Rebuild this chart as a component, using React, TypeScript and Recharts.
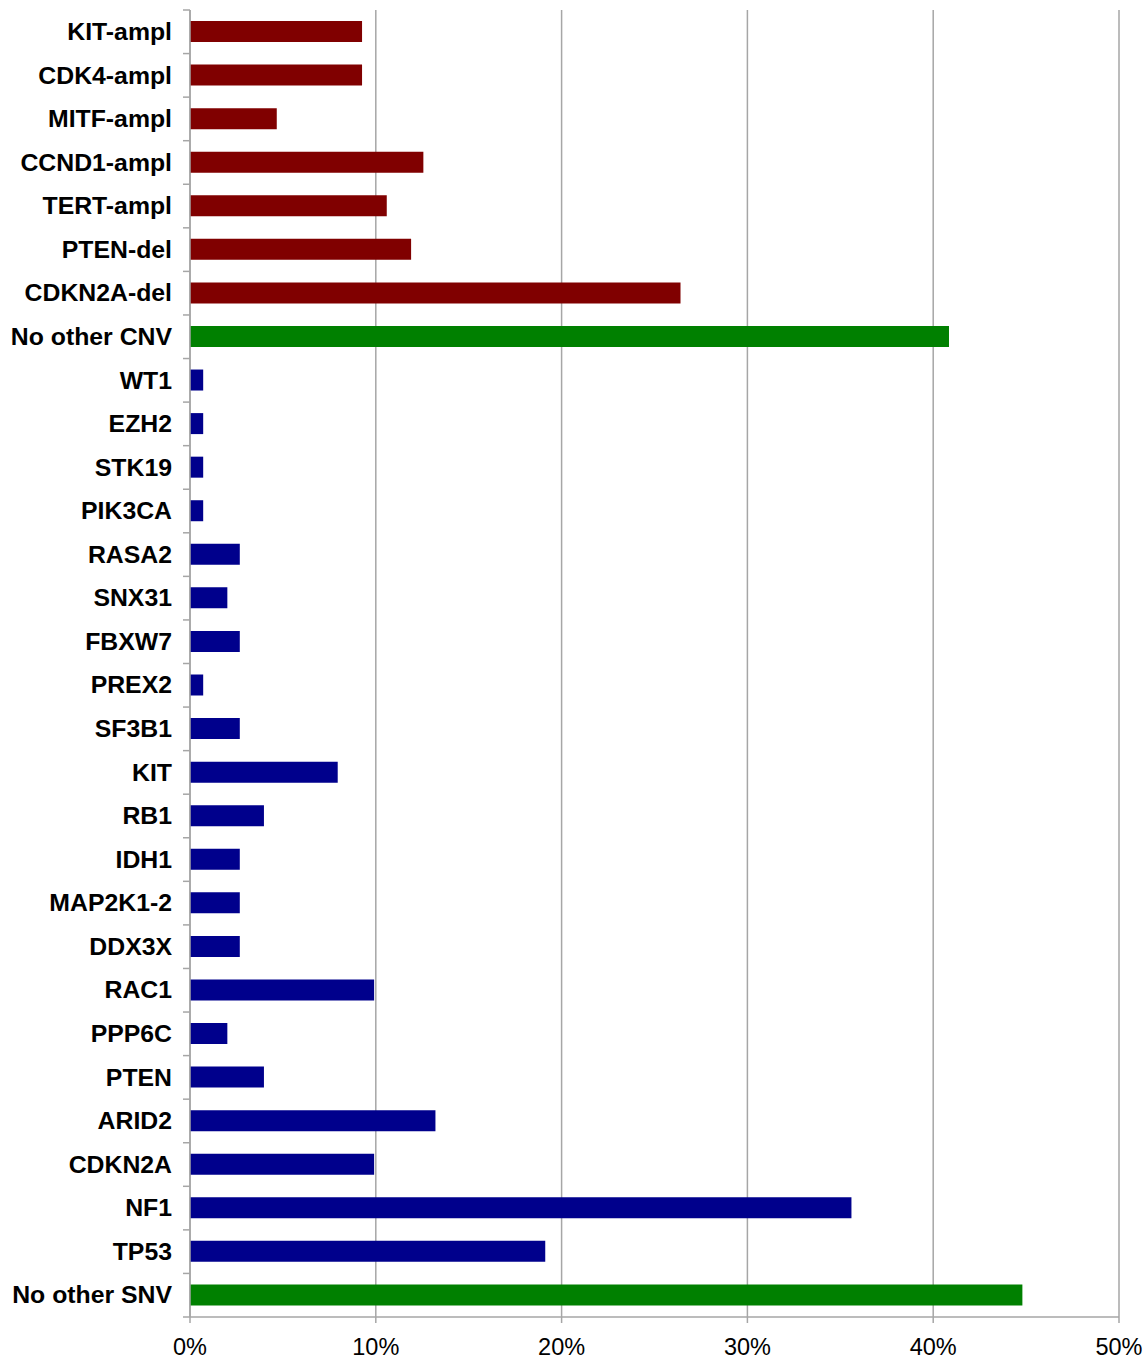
import React from 'react';
import { BarChart, Bar, XAxis, YAxis, CartesianGrid, Cell } from 'recharts';

// categories top to bottom
const genes = [
  'KIT-ampl', 'CDK4-ampl', 'MITF-ampl', 'CCND1-ampl', 'TERT-ampl', 'PTEN-del', 'CDKN2A-del',
  'No other CNV',
  'WT1', 'EZH2', 'STK19', 'PIK3CA', 'RASA2', 'SNX31', 'FBXW7', 'PREX2', 'SF3B1', 'KIT', 'RB1',
  'IDH1', 'MAP2K1-2', 'DDX3X', 'RAC1', 'PPP6C', 'PTEN', 'ARID2', 'CDKN2A', 'NF1', 'TP53',
  'No other SNV',
];

// fraction of samples
const frequencies = [
  0.0926, 0.0926, 0.0467, 0.1256, 0.1059, 0.119, 0.264,
  0.4085,
  0.0071, 0.0071, 0.0071, 0.0071, 0.0268, 0.0201, 0.0268, 0.0071, 0.0268, 0.0795, 0.0398,
  0.0268, 0.0268, 0.0268, 0.0991, 0.0201, 0.0398, 0.1321, 0.0991, 0.356, 0.1912,
  0.448,
];

const kinds = [
  'cnv', 'cnv', 'cnv', 'cnv', 'cnv', 'cnv', 'cnv',
  'none',
  'snv', 'snv', 'snv', 'snv', 'snv', 'snv', 'snv', 'snv', 'snv', 'snv', 'snv',
  'snv', 'snv', 'snv', 'snv', 'snv', 'snv', 'snv', 'snv', 'snv', 'snv',
  'none',
];

const xTicks = [0, 0.1, 0.2, 0.3, 0.4, 0.5];

const kindColors: Record<string, string> = {
  cnv: '#800000',
  snv: '#00008C',
  none: '#008000',
};

const WIDTH = 1148;
const HEIGHT = 1359;
const MARGIN = { top: 10, right: 29, bottom: 0, left: 0 };
const X_AXIS_H = 42;
const Y_AXIS_W = 190;
const GRID = '#a6a6a6';

const data = genes.map((name, i) => ({ name, value: frequencies[i], kind: kinds[i] }));

const plotH = HEIGHT - MARGIN.top - X_AXIS_H;
const step = plotH / genes.length;

// label plus a tick mark on the band's upper edge (and the lower one for the last band)
const GeneTick = (props: any) => {
  const { x, y, payload, index } = props;
  const ax = x + 18;
  return (
    <g>
      <line x1={ax - 7} x2={ax} y1={y - step / 2} y2={y - step / 2} stroke={GRID} strokeWidth={1.5} />
      {index === genes.length - 1 && (
        <line x1={ax - 7} x2={ax} y1={y + step / 2} y2={y + step / 2} stroke={GRID} strokeWidth={1.5} />
      )}
      <text
        x={x}
        y={y}
        dy="0.33em"
        textAnchor="end"
        fill="#000"
        style={{ fontFamily: 'Liberation Sans, Arial, sans-serif', fontSize: 24.8, fontWeight: 700 }}
      >
        {payload.value}
      </text>
    </g>
  );
};

export default function App() {
  return (
    <div style={{ position: 'absolute', left: 0, top: 0, background: '#fff' }}>
      <BarChart
        width={WIDTH}
        height={HEIGHT}
        data={data}
        layout="vertical"
        margin={MARGIN}
        barSize={21}
      >
        <CartesianGrid horizontal={false} stroke={GRID} strokeWidth={1.5} />
        <XAxis
          type="number"
          domain={[0, 0.5]}
          ticks={xTicks}
          height={X_AXIS_H}
          tickFormatter={(v: number) => `${Math.round(v * 100)}%`}
          stroke={GRID}
          strokeWidth={1.5}
          tickSize={6}
          tickMargin={15}
          tick={{ fill: '#000', fontSize: 23.5, fontFamily: 'Liberation Sans, Arial, sans-serif' }}
          interval={0}
        />
        <YAxis
          type="category"
          dataKey="name"
          width={Y_AXIS_W}
          stroke={GRID}
          strokeWidth={1.5}
          tickLine={false}
          tickSize={7}
          tickMargin={11}
          interval={0}
          tick={<GeneTick />}
        />
        <Bar dataKey="value" isAnimationActive={false}>
          {data.map((d) => (
            <Cell key={d.name} fill={kindColors[d.kind]} />
          ))}
        </Bar>
      </BarChart>
    </div>
  );
}
